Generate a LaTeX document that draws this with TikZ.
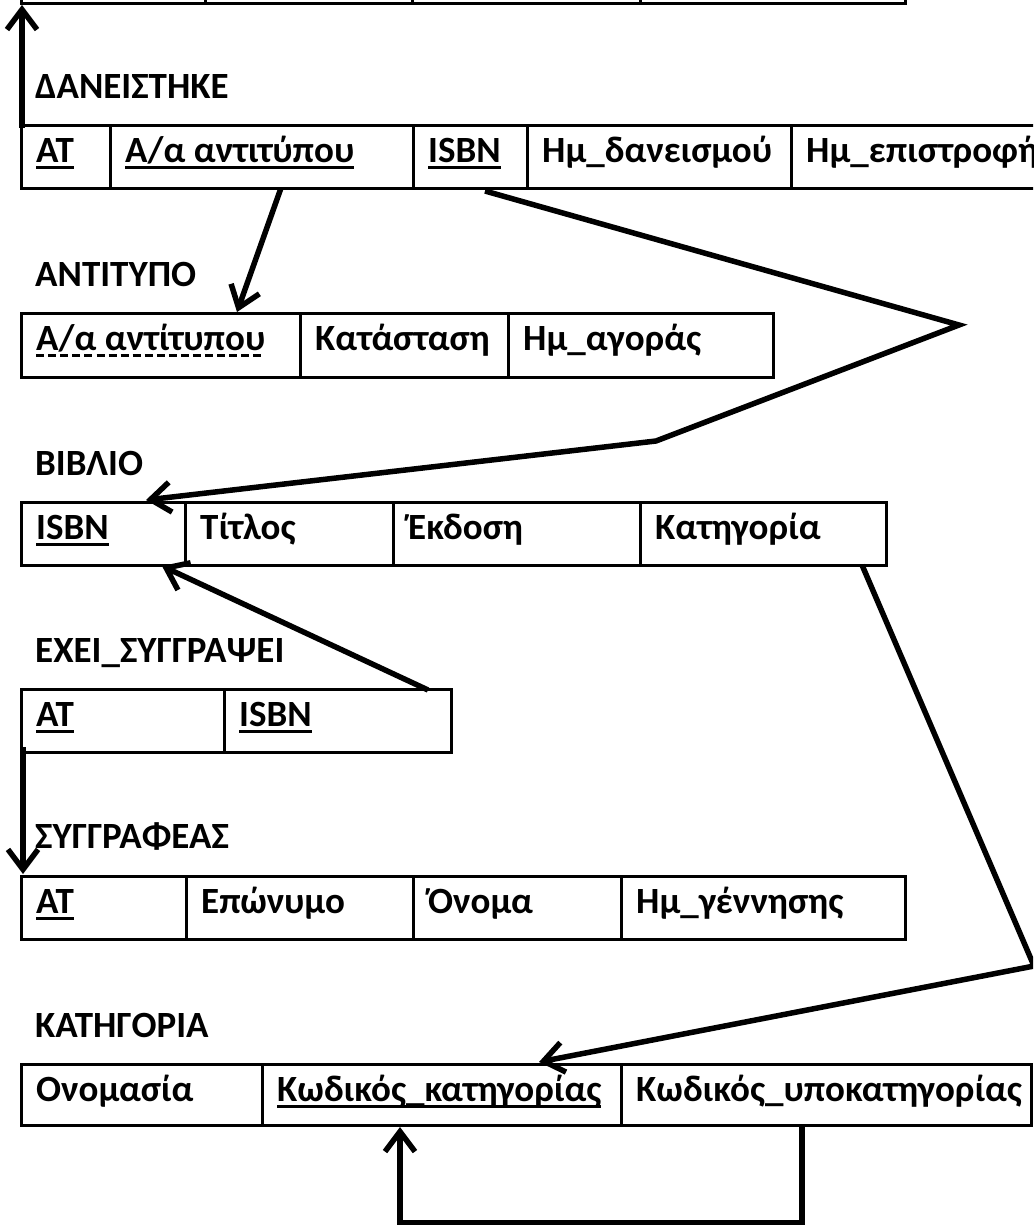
\documentclass[tikz,border=0pt]{standalone}
\usepackage{fontspec}
\setmainfont{Carlito}
\usetikzlibrary{arrows.meta}
\newcommand\ulx[1]{\setbox0\hbox{#1}\rlap{\rule[-6.5pt]{\wd0}{3pt}}\box0}
\newcommand\dulx[1]{\setbox0\hbox{#1}\rlap{\hbox to \wd0{\xleaders\hbox{\rule[-6.5pt]{8pt}{3pt}\hskip4pt}\hfil}}\box0}
\newcommand\mycell[6]{%
  \node[cellbox, minimum width={(#3-#2)*1pt}, minimum height={(#5-#4)*1pt}] (#1) at (#2,#4) {};
  \node[txt] (#1t) at (#2+15,#4+37) {#6};}
\begin{document}
\begin{tikzpicture}[x=1pt,y=-1pt,
  cellbox/.style={draw, line width=3pt, rectangle, inner sep=0pt, outer sep=0pt, anchor=north west},
  txt/.style={anchor=base west, inner sep=0pt, font=\fontsize{37pt}{42pt}\selectfont\bfseries},
  conn/.style={line width=5.5pt, -{Straight Barb[length=20pt,width=30pt]}, line join=miter}]
\useasboundingbox (0,0) rectangle (1033,1225);
\fill[white] (0,0) rectangle (1033,1225);
\clip (0,0) rectangle (1033,1225);

% partial table at top
\mycell{z1}{21}{205}{-61}{4}{}
\mycell{z2}{205}{412}{-61}{4}{}
\mycell{z3}{412}{640}{-61}{4}{}
\mycell{z4}{640}{905}{-61}{4}{}

% labels
\node[txt] (lDan) at (35,99) {ΔΑΝΕΙΣΤΗΚΕ};
\node[txt] (lAnt) at (35,286) {ΑΝΤΙΤΥΠΟ};
\node[txt] (lBib) at (35,475) {ΒΙΒΛΙΟ};
\node[txt] (lExe) at (35,662) {ΕΧΕΙ\_ΣΥΓΓΡΑΨΕΙ};
\node[txt] (lSyg) at (35,848) {ΣΥΓΓΡΑΦΕΑΣ};
\node[txt] (lKat) at (35,1037) {ΚΑΤΗΓΟΡΙΑ};

% ΔΑΝΕΙΣΤΗΚΕ
\mycell{d1}{21}{110}{126}{189}{\ulx{ΑΤ}}
\mycell{d2}{110}{413}{126}{189}{\ulx{Α/α αντιτύπου}}
\mycell{d3}{413}{527}{126}{189}{\ulx{ISBN}}
\mycell{d4}{527}{791}{126}{189}{Ημ\_δανεισμού}
\mycell{d5}{791}{1120}{126}{189}{Ημ\_επιστροφής}

% ΑΝΤΙΤΥΠΟ
\mycell{a1}{21}{300}{313}{377}{\dulx{Α/α αντίτυπου}}
\mycell{a2}{300}{508}{313}{377}{Κατάσταση}
\mycell{a3}{508}{773}{313}{377}{Ημ\_αγοράς}

% ΒΙΒΛΙΟ
\mycell{b1}{21}{185}{502}{565}{\ulx{ISBN}}
\mycell{b2}{185}{393}{502}{565}{Τίτλος}
\mycell{b3}{393}{640}{502}{565}{Έκδοση}
\mycell{b4}{640}{886}{502}{565}{Κατηγορία}

% ΕΧΕΙ_ΣΥΓΓΡΑΨΕΙ
\mycell{e1}{21}{224}{689}{752}{\ulx{ΑΤ}}
\mycell{e2}{224}{451}{689}{752}{\ulx{ISBN}}

% ΣΥΓΓΡΑΦΕΑΣ
\mycell{s1}{21}{186}{876}{939}{\ulx{ΑΤ}}
\mycell{s2}{186}{413}{876}{939}{Επώνυμο}
\mycell{s3}{413}{621}{876}{939}{Όνομα}
\mycell{s4}{621}{905}{876}{939}{Ημ\_γέννησης}

% ΚΑΤΗΓΟΡΙΑ
\mycell{k1}{21}{262}{1064}{1125}{Ονομασία}
\mycell{k2}{262}{621}{1064}{1125}{\ulx{Κωδικός\_κατηγορίας}}
\mycell{k3}{621}{1031}{1064}{1125}{Κωδικός\_υποκατηγορίας}

% connector points
\coordinate (c1s) at (22,128);
\coordinate (c1e) at (22,5);
\coordinate (c2s) at (281,188);
\coordinate (c2e) at (237,312);
\coordinate (c3s) at (485,191);
\coordinate (c3a) at (959,325);
\coordinate (c3b) at (656,441);
\coordinate (c3e) at (146,500);
\coordinate (c4s) at (428,690);
\coordinate (c4e) at (162,566);
\coordinate (c5s) at (23,747);
\coordinate (c5e) at (23,874);
\coordinate (c6s) at (862,565);
\coordinate (c6a) at (1034,966);
\coordinate (c6e) at (539,1062);
\coordinate (c7s) at (802,1125);
\coordinate (c7a) at (802,1223);
\coordinate (c7b) at (400,1223);
\coordinate (c7e) at (400,1127);

\draw[conn] (c1s) -- (c1e);
\draw[conn] (c2s) -- (c2e);
\draw[conn] (c3s) -- (c3a) -- (c3b) -- (c3e);
\draw[conn] (c4s) -- (c4e);
\draw[conn] (c5s) -- (c5e);
\draw[conn] (c6s) -- (c6a) -- (c6e);
\draw[conn] (c7s) -- (c7a) -- (c7b) -- (c7e);
\end{tikzpicture}
\end{document}
